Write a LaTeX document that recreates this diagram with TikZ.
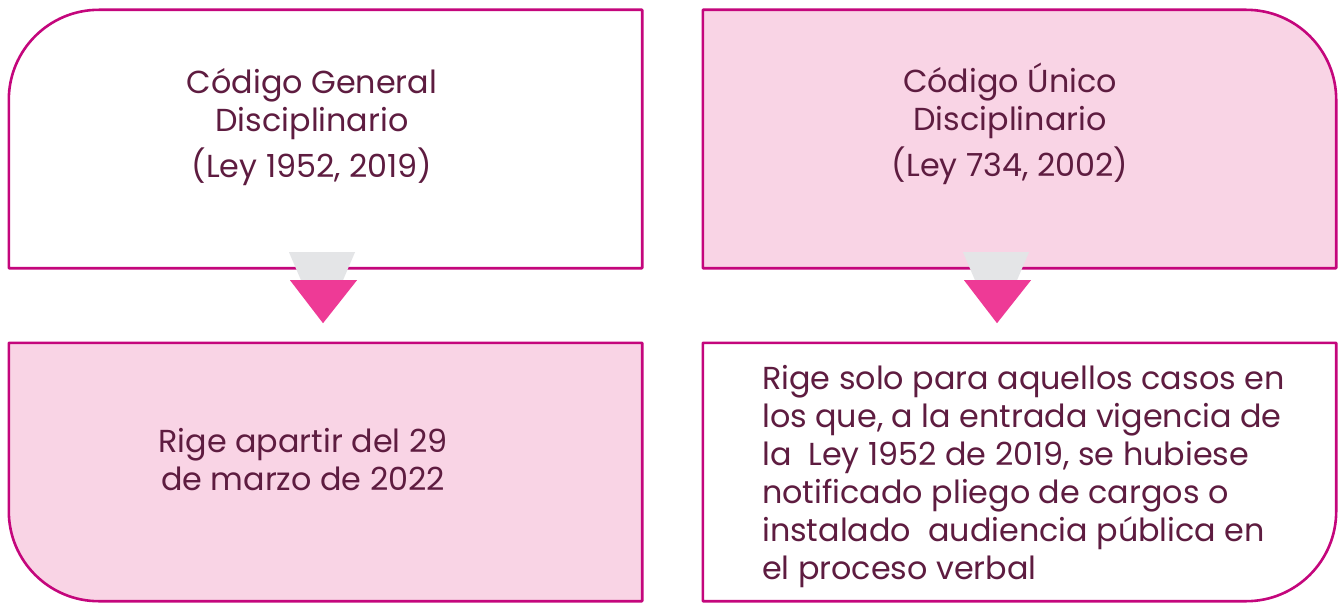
\documentclass[tikz,border=0pt]{standalone}
\usepackage{fontspec}
\setmainfont{Poppins}
\definecolor{edge}{HTML}{C4067C}
\definecolor{pinkfill}{HTML}{F9D4E5}
\definecolor{arrowpink}{HTML}{EE3A96}
\definecolor{arrowgrey}{HTML}{E4E5E7}
\definecolor{txt}{HTML}{5E1C40}
\tikzset{
  boxarea/.style={draw=none,inner sep=0pt,minimum width=633pt,minimum height=258pt},
  outl/.style={draw=edge,line width=2.6pt,line join=round},
  label/.style={inner sep=0pt,text=txt,font=\fontsize{31.8}{38}\selectfont},
  greytip/.style={fill=arrowgrey},
  pinktip/.style={fill=arrowpink},
}
\begin{document}
\begin{tikzpicture}[x=1pt,y=-1pt]
\useasboundingbox[fill=white] (0,0) rectangle (1340,602);
% box areas
\node[boxarea] (tl) at (325.5,139) {};
\node[boxarea] (tr) at (1019.5,139) {};
\node[boxarea] (bl) at (325.5,472) {};
\node[boxarea] (br) at (1019.5,472) {};
% outlines
\draw[outl,fill=white] (tl.south west) -- ([yshift=-90pt]tl.north west)
  arc[start angle=180,end angle=270,radius=90] -- (tl.north east) -- (tl.south east) -- cycle;
\draw[outl,fill=pinkfill] (tr.south west) -- (tr.north west) -- ([xshift=-90pt]tr.north east)
  arc[start angle=270,end angle=360,radius=90] -- (tr.south east) -- cycle;
\draw[outl,fill=pinkfill] (bl.north west) -- ([yshift=90pt]bl.south west)
  arc[start angle=180,end angle=90,radius=90] -- (bl.south east) -- (bl.north east) -- cycle;
\draw[outl,fill=white] (br.north west) -- (br.south west) -- ([xshift=-90pt]br.south east)
  arc[start angle=90,end angle=0,radius=90] -- (br.north east) -- cycle;
% connectors
\coordinate (la) at ([xshift=-2.5pt]tl.south);
\coordinate (ra) at ([xshift=-22.5pt]tr.south);
\foreach \c in {la,ra}{
  \fill[greytip] ([shift={(-34,-16)}]\c) -- ([shift={(32,-16)}]\c) -- ([shift={(20,12)}]\c) -- ([shift={(-22,12)}]\c) -- cycle;
  \fill[pinktip] ([shift={(-33,12)}]\c) -- ([shift={(34,12)}]\c) -- ([shift={(0,55)}]\c) -- cycle;
}
% texts
\node[label,align=center] (tlt) at (312,127) {Código General\\Disciplinario\\[8pt](Ley 1952, 2019)};
\node[label,align=center] (trt) at (1010,124) {Código Único\\Disciplinario\\[8pt](Ley 734, 2002)};
\node[label,align=center] (blt) at (303,460) {Rige apartir del 29\\de marzo de 2022};
\node[label,align=left,anchor=west] (brt) at (762,477) {Rige solo para aquellos casos en\\los que, a la entrada vigencia de\\la\ \ Ley 1952 de 2019, se hubiese\\notificado pliego de cargos o\\instalado\ \ audiencia pública en\\el proceso verbal};
\end{tikzpicture}
\end{document}
